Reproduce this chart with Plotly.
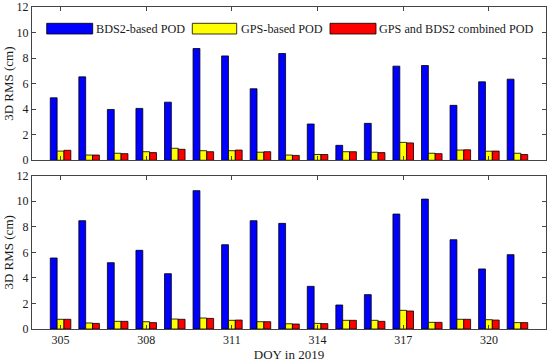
import plotly.graph_objects as go
from plotly.subplots import make_subplots

days = list(range(305, 322))
tick_vals = [305, 308, 311, 314, 317, 320]

# Top panel
bds_top = [4.89, 6.53, 3.98, 4.06, 4.55, 8.75, 8.17, 5.60, 8.36, 2.84, 1.17, 2.89, 7.37, 7.42, 4.30, 6.14, 6.35]
gps_top = [0.72, 0.41, 0.55, 0.67, 0.94, 0.75, 0.75, 0.63, 0.41, 0.45, 0.67, 0.63, 1.40, 0.55, 0.80, 0.71, 0.55]
com_top = [0.78, 0.41, 0.52, 0.60, 0.86, 0.67, 0.80, 0.67, 0.38, 0.45, 0.67, 0.60, 1.36, 0.52, 0.82, 0.72, 0.45]

# Bottom panel
bds_bot = [5.56, 8.48, 5.19, 6.16, 4.33, 10.83, 6.60, 8.48, 8.27, 3.34, 1.88, 2.69, 9.00, 10.17, 6.99, 4.70, 5.82]
gps_bot = [0.76, 0.47, 0.60, 0.57, 0.78, 0.86, 0.68, 0.57, 0.41, 0.44, 0.68, 0.68, 1.46, 0.52, 0.76, 0.73, 0.50]
com_bot = [0.76, 0.44, 0.60, 0.50, 0.76, 0.83, 0.70, 0.57, 0.39, 0.42, 0.68, 0.60, 1.41, 0.52, 0.76, 0.70, 0.50]

names = ["BDS2-based POD", "GPS-based POD", "GPS and BDS2 combined POD"]
colors = ["#0000FF", "#FFFF00", "#FF0000"]

FAM = "Times New Roman"
TXT = "#1a1a1a"

fig = make_subplots(rows=2, cols=1, vertical_spacing=0.048)

for row, series in ((1, [bds_top, gps_top, com_top]), (2, [bds_bot, gps_bot, com_bot])):
    for name, col, vals in zip(names, colors, series):
        fig.add_trace(go.Bar(x=days, y=vals, name=name,
                             marker=dict(color=col, line=dict(color="black", width=0.8)),
                             showlegend=False), row=row, col=1)

# Legend drawn as swatches + labels (paper coordinates of the plotting area)
W, H, L, B = 514.0, 322.0, 32.0, 329.0
def px(xp):
    return (xp - L) / W
def py(yp):
    return (B - yp) / H

legend_items = [(46.7, 92.7, 95.5), (192.3, 236.7, 240.5), (330.0, 376.0, 379.0)]
for (x0, x1, tx), name, col in zip(legend_items, names, colors):
    fig.add_shape(type="rect", xref="paper", yref="paper", x0=px(x0), x1=px(x1), y0=py(34), y1=py(23.3),
                  fillcolor=col, line=dict(color="black", width=0.8))
    fig.add_annotation(xref="paper", yref="paper", x=px(tx), y=py(28.5), text=name, showarrow=False,
                       xanchor="left", yanchor="middle", xshift=-2, font=dict(family=FAM, size=12.2, color=TXT))

fig.update_layout(
    width=550, height=362,
    margin=dict(l=32, r=4, t=7, b=33),
    barmode="group", bargap=0.28, bargroupgap=0,
    plot_bgcolor="white", paper_bgcolor="white",
    font=dict(family=FAM, size=12, color=TXT),
    showlegend=False,
)

axis_common = dict(showline=True, linecolor="#444444", linewidth=1, mirror="ticks",
                   ticks="inside", ticklen=4, tickcolor="#444444", showgrid=False, zeroline=False,
                   automargin=False, tickfont=dict(family=FAM, size=12, color=TXT))
for r in (1, 2):
    fig.update_xaxes(range=[304, 322], tickvals=tick_vals, showticklabels=(r == 2), row=r, col=1, **axis_common)
    fig.update_yaxes(range=[0, 12], dtick=2, row=r, col=1,
                     title=dict(text="3D RMS (cm)", standoff=0, font=dict(family=FAM, size=13, color=TXT)),
                     **axis_common)
fig.update_xaxes(title=dict(text="DOY in 2019", standoff=2, font=dict(family=FAM, size=13, color=TXT)), row=2, col=1)

fig.write_html("out.html", config={"displayModeBar": False},
               post_script="document.body.style.margin='0';document.body.style.padding='0';")
